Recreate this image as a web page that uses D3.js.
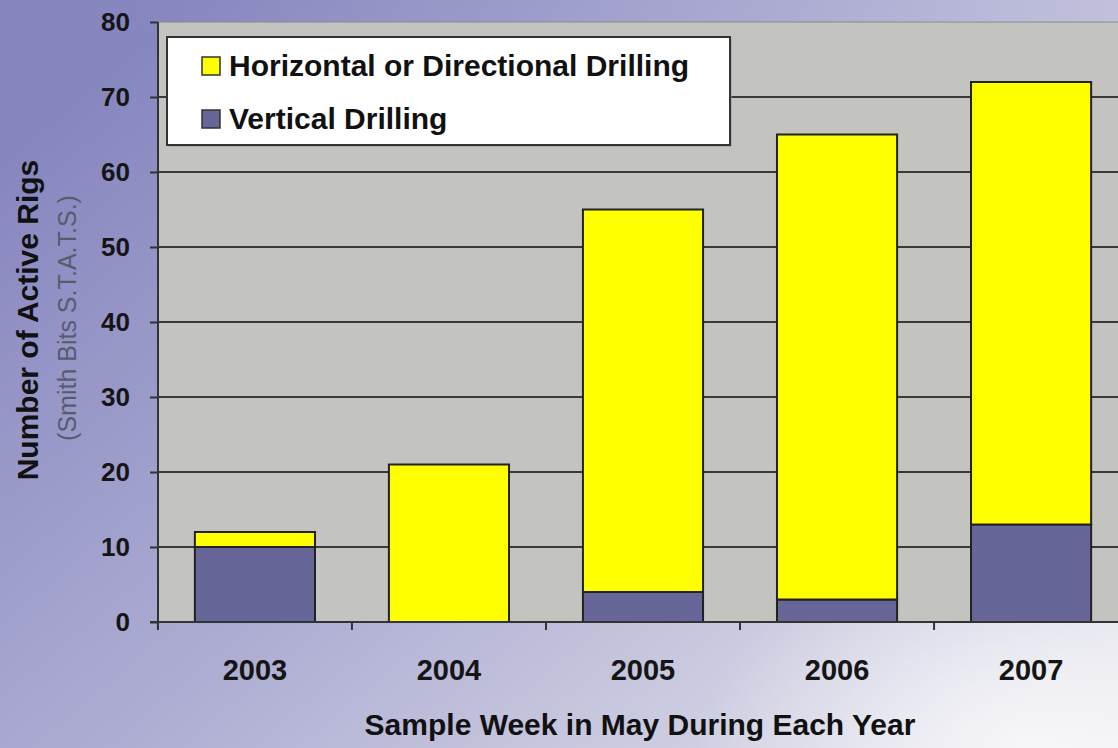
<!DOCTYPE html>
<html>
<head>
<meta charset="utf-8">
<script src="https://cdn.jsdelivr.net/npm/d3@7"></script>
<style>
  html, body { margin: 0; padding: 0; background: #fff; }
  svg { display: block; }
  text { font-family: "Liberation Sans", Arial, sans-serif; }
</style>
</head>
<body>
<svg id="chart" width="1118" height="748"></svg>
<script>
// ---- data ----
const years = ["2003", "2004", "2005", "2006", "2007"];
const verticalDrilling = [10, 0, 4, 3, 13];
const horizontalDrilling = [2, 21, 51, 62, 59];
const yTicks = [0, 10, 20, 30, 40, 50, 60, 70, 80];
const seriesNames = ["Horizontal or Directional Drilling", "Vertical Drilling"];
const seriesColors = ["#ffff00", "#666699"];

const W = 1118, H = 748;
const svg = d3.select("#chart");
const defs = svg.append("defs");

// background gradient
const bg = defs.append("linearGradient").attr("id", "bg")
  .attr("x1", "0%").attr("y1", "20%").attr("x2", "100%").attr("y2", "100%");
bg.append("stop").attr("offset", "0%").attr("stop-color", "#8686bf");
bg.append("stop").attr("offset", "45%").attr("stop-color", "#adadd3");
bg.append("stop").attr("offset", "80%").attr("stop-color", "#d2d2e4");
bg.append("stop").attr("offset", "100%").attr("stop-color", "#eaeaef");
const glow = defs.append("radialGradient").attr("id", "glow")
  .attr("cx", "92%").attr("cy", "100%").attr("r", "30%");
glow.append("stop").attr("offset", "0%").attr("stop-color", "#ffffff").attr("stop-opacity", 0.7);
glow.append("stop").attr("offset", "100%").attr("stop-color", "#ffffff").attr("stop-opacity", 0);
const topg = defs.append("linearGradient").attr("id", "topg")
  .attr("x1", "0%").attr("y1", "0%").attr("x2", "100%").attr("y2", "0%");
topg.append("stop").attr("offset", "0%").attr("stop-color", "#8a8ac2").attr("stop-opacity", 0);
topg.append("stop").attr("offset", "100%").attr("stop-color", "#c4c4de").attr("stop-opacity", 0.8);

svg.append("rect").attr("width", W).attr("height", H).attr("fill", "url(#bg)");
svg.append("rect").attr("width", W).attr("height", 30).attr("fill", "url(#topg)");
svg.append("rect").attr("width", W).attr("height", H).attr("fill", "url(#glow)");

// ---- scales ----
const plotLeft = 158, plotTop = 22, plotBottom = 622;
const x = d3.scaleBand().domain(years).range([plotLeft, plotLeft + 970]).paddingInner(0.381).paddingOuter(0.19);
const y = d3.scaleLinear().domain([0, 80]).range([plotBottom, plotTop]);

// plot area
svg.append("rect")
  .attr("x", plotLeft + 1).attr("y", y(80))
  .attr("width", W - plotLeft).attr("height", y(0) - y(80))
  .attr("fill", "#c3c3bf");

// gridlines
svg.append("g").selectAll("line").data(yTicks.filter(d => d > 0)).join("line")
  .attr("x1", plotLeft).attr("x2", W)
  .attr("y1", d => y(d)).attr("y2", d => y(d))
  .attr("stroke", d => d === 80 ? "#8a8a8a" : "#3a3a3a")
  .attr("stroke-width", d => d === 80 ? 1 : 2);

// bars
const stacked = years.map((yr, i) => ({
  year: yr,
  segs: [
    { y0: 0, y1: verticalDrilling[i], color: seriesColors[1] },
    { y0: verticalDrilling[i], y1: verticalDrilling[i] + horizontalDrilling[i], color: seriesColors[0] }
  ]
}));
const barG = svg.append("g");
stacked.forEach(d => {
  d.segs.filter(s => s.y1 > s.y0).forEach(s => {
    barG.append("rect")
      .attr("x", x(d.year)).attr("width", x.bandwidth())
      .attr("y", y(s.y1)).attr("height", y(s.y0) - y(s.y1))
      .attr("fill", s.color)
      .attr("stroke", "#222").attr("stroke-width", 2);
  });
});

// y axis
const yAxis = d3.axisLeft(y).tickValues(yTicks).tickSize(8).tickPadding(20).tickSizeOuter(0);
const yg = svg.append("g").attr("transform", `translate(${plotLeft},0)`).call(yAxis);
yg.select(".domain").attr("stroke", "#333").attr("stroke-width", 2)
  .attr("d", `M0,${y(80)}V${y(0) + 8}`);
yg.selectAll(".tick line").attr("stroke", "#333").attr("stroke-width", 2);
yg.selectAll(".tick text")
  .attr("font-size", 26).attr("font-weight", "bold").attr("fill", "#151515")
  .attr("font-family", "'Liberation Sans', Arial, sans-serif");

// x axis
const xg = svg.append("g").attr("transform", `translate(0,${plotBottom})`);
xg.append("line").attr("x1", plotLeft - 8).attr("x2", W).attr("y1", 0).attr("y2", 0)
  .attr("stroke", "#333").attr("stroke-width", 2);
const bounds = years.map(d => x(d) - x.step() * x.paddingInner() / 2).concat([x(years[years.length - 1]) + x.bandwidth() + x.step() * x.paddingInner() / 2]);
xg.selectAll("line.tk").data(bounds).join("line").attr("class", "tk")
  .attr("x1", d => d).attr("x2", d => d).attr("y1", 0).attr("y2", 8)
  .attr("stroke", "#333").attr("stroke-width", 2);
xg.selectAll("text").data(years).join("text")
  .attr("x", d => x(d) + x.bandwidth() / 2).attr("y", 58)
  .attr("text-anchor", "middle")
  .attr("font-size", 29).attr("font-weight", "bold").attr("fill", "#151515")
  .text(d => d);

// axis titles
svg.append("text")
  .attr("x", 640).attr("y", 735).attr("text-anchor", "middle")
  .attr("font-size", 30).attr("font-weight", "bold").attr("fill", "#111")
  .text("Sample Week in May During Each Year");
svg.append("text")
  .attr("transform", "translate(38,320) rotate(-90)").attr("text-anchor", "middle")
  .attr("font-size", 30).attr("font-weight", "bold").attr("fill", "#111")
  .text("Number of Active Rigs");
svg.append("text")
  .attr("transform", "translate(76,318) rotate(-90)").attr("text-anchor", "middle")
  .attr("font-size", 25).attr("fill", "#5a5a6e")
  .text("(Smith Bits S.T.A.T.S.)");

// legend
const lg = svg.append("g");
lg.append("rect").attr("x", 169).attr("y", 39).attr("width", 563).attr("height", 108)
  .attr("fill", "#9a9a9a").attr("opacity", 0.5);
lg.append("rect").attr("x", 167).attr("y", 37).attr("width", 563).attr("height", 108)
  .attr("fill", "#ffffff").attr("stroke", "#333").attr("stroke-width", 2);
const rows = [66, 119];
seriesNames.forEach((name, i) => {
  lg.append("rect").attr("x", 202).attr("y", rows[i] - 9).attr("width", 18).attr("height", 18)
    .attr("fill", seriesColors[i]).attr("stroke", "#333").attr("stroke-width", 1.5);
  lg.append("text").attr("x", 229).attr("y", rows[i] + 10)
    .attr("font-size", 30).attr("font-weight", "bold").attr("fill", "#111")
    .text(name);
});
</script>
</body>
</html>
